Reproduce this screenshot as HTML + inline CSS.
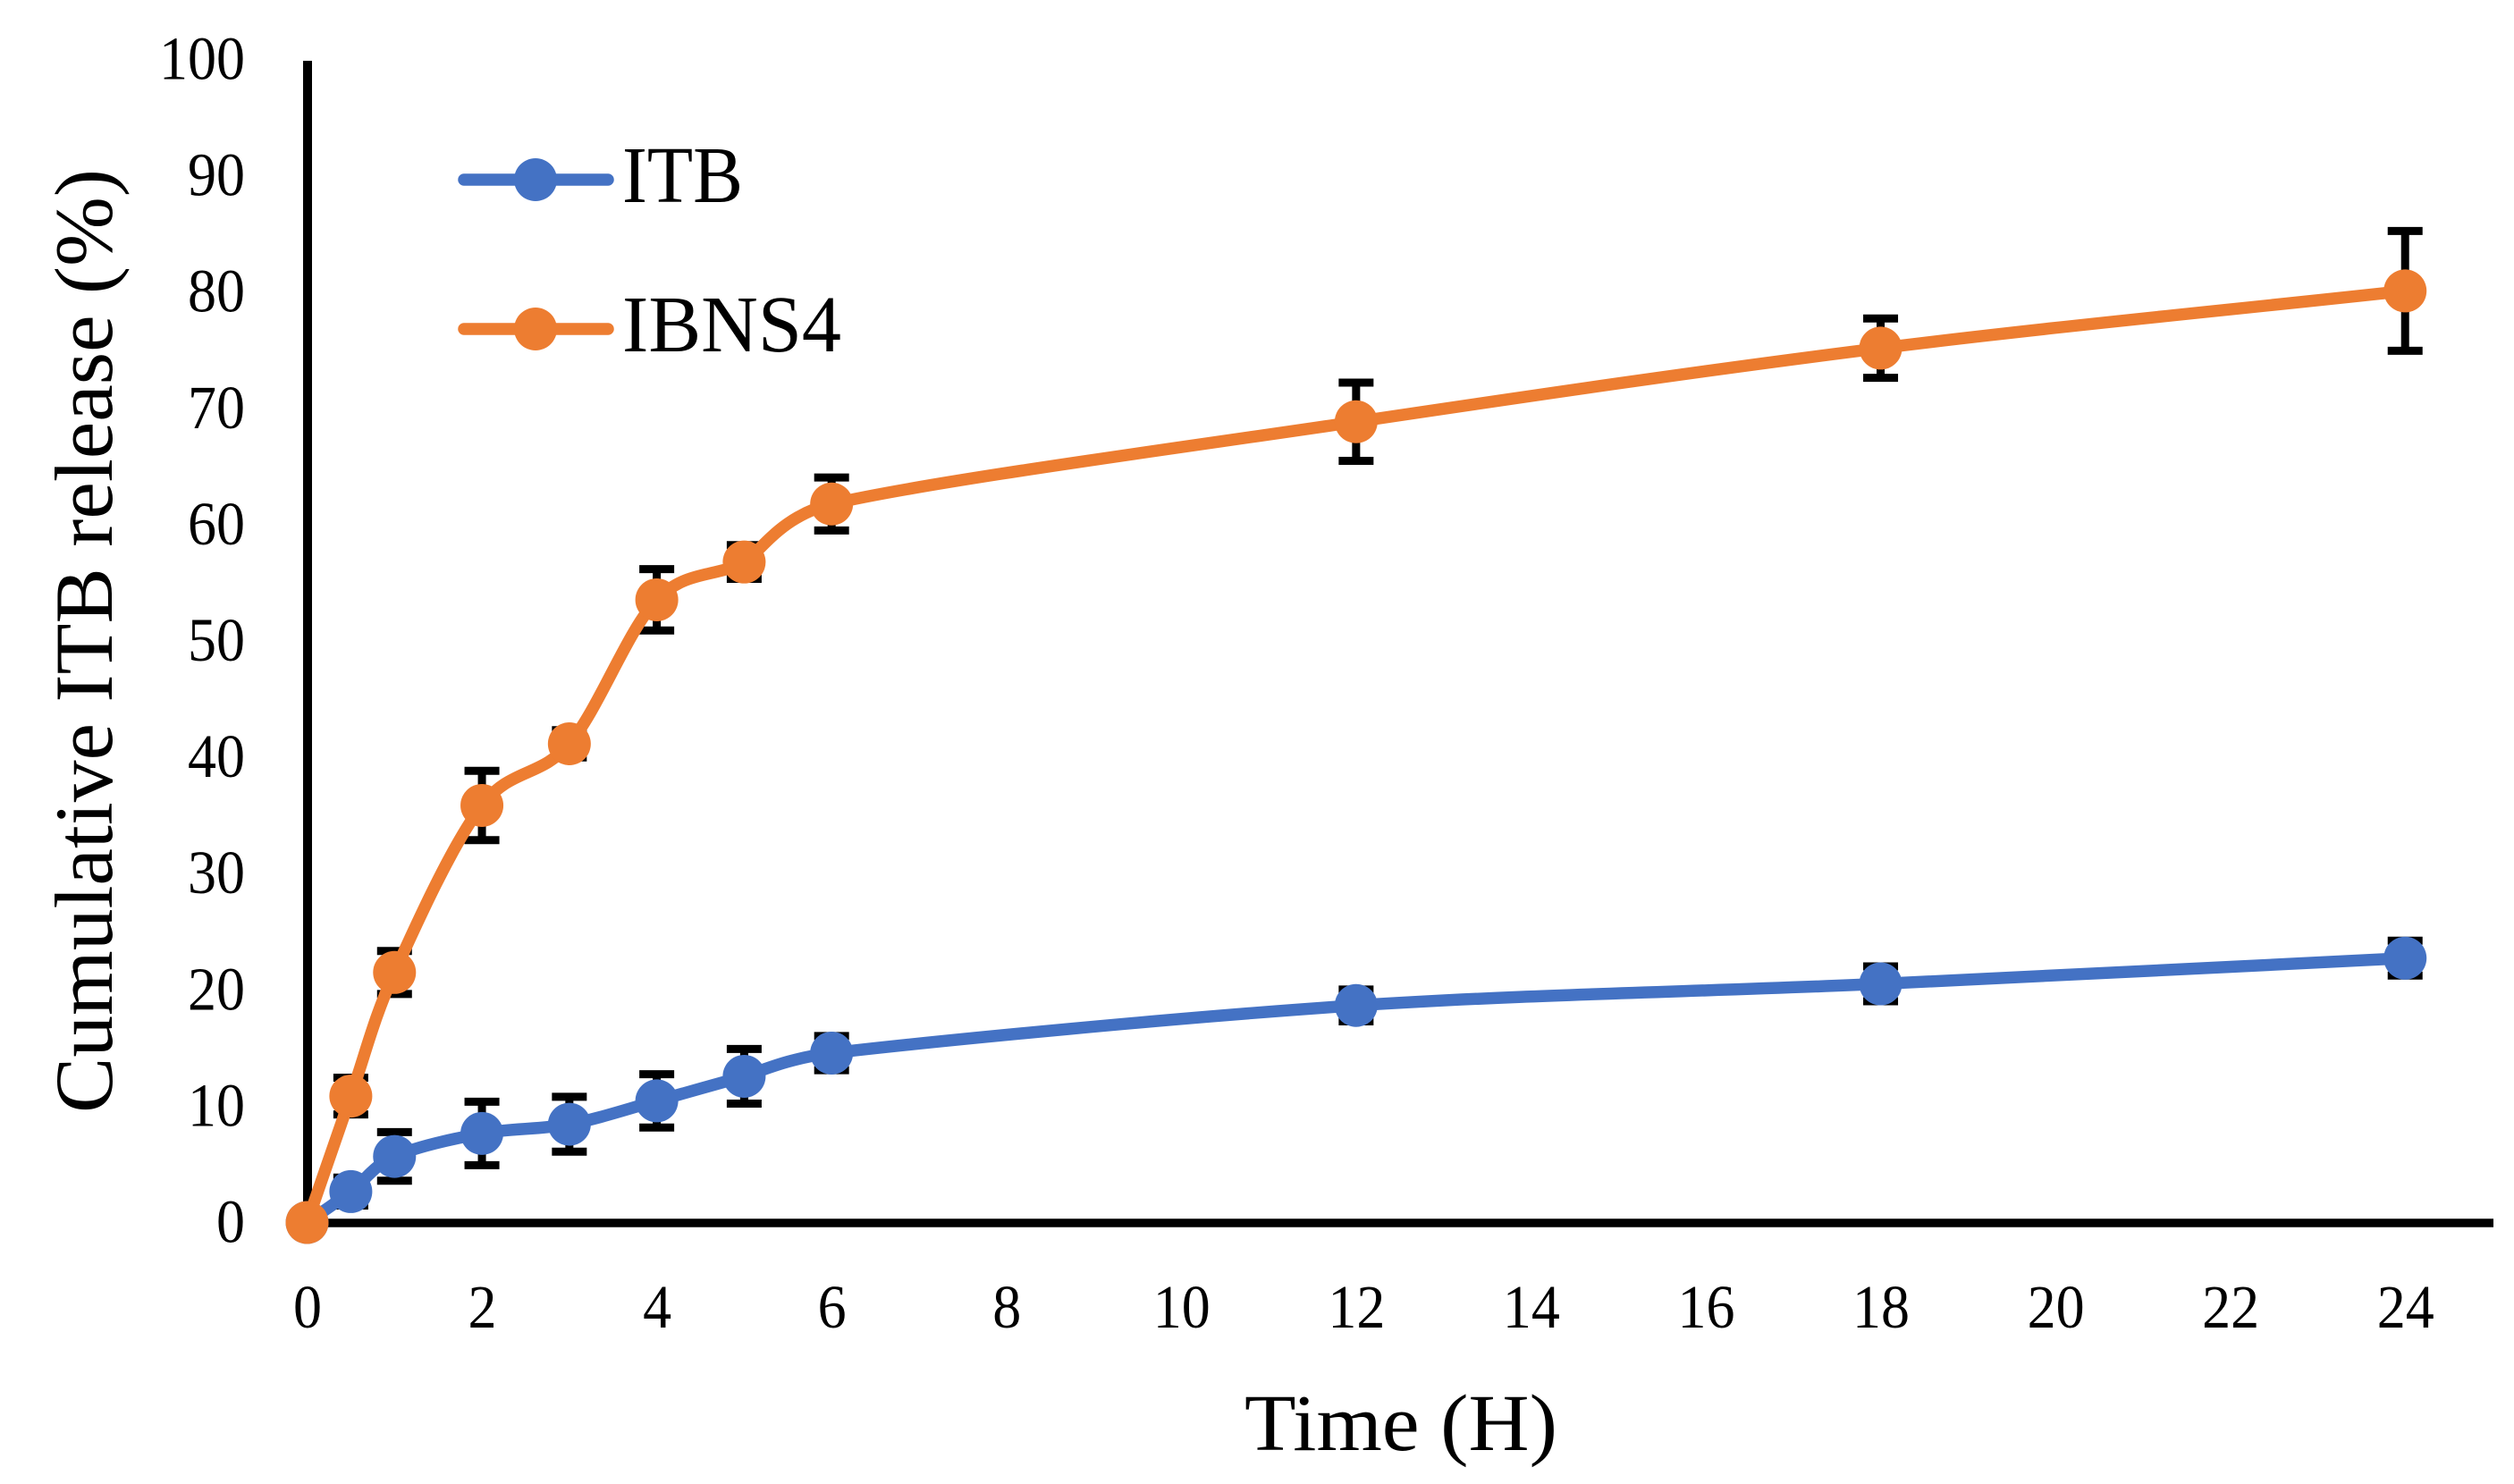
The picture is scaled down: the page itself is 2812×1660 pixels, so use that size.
<!DOCTYPE html>
<html lang="en">
<head>
<meta charset="utf-8">
<title>Cumulative ITB release over time</title>
<style>
html,body{margin:0;padding:0;background:#fff;}
svg{display:block;}
text{font-family:"Liberation Serif",serif;fill:#000;}
</style>
</head>
<body>
<svg id="chart" width="2812" height="1660" viewBox="0 0 2812 1660" xmlns="http://www.w3.org/2000/svg">
  <rect x="0" y="0" width="2812" height="1660" fill="#fff"/>
  <g id="x-ticks"></g>
  <g id="y-ticks"></g>
  <g id="axes"></g>
  <g id="errors"></g>
  <g id="series"></g>
  <text transform="translate(125,1245) rotate(-90)" font-size="92" textLength="1056" lengthAdjust="spacingAndGlyphs">Cumulative ITB release (%)</text>
  <text x="1392" y="1622" font-size="90" textLength="350" lengthAdjust="spacingAndGlyphs">Time (H)</text>
  <g>
    <g>
      <line x1="519" y1="201" x2="680" y2="201" stroke="#4472C4" stroke-width="13.5" stroke-linecap="round"/>
      <circle cx="599" cy="201" r="24" fill="#4472C4"/>
      <text x="696" y="226" font-size="90" textLength="135" lengthAdjust="spacingAndGlyphs">ITB</text>
    </g>
    <g>
      <line x1="519" y1="368" x2="680" y2="368" stroke="#ED7D31" stroke-width="13.5" stroke-linecap="round"/>
      <circle cx="599" cy="368" r="24" fill="#ED7D31"/>
      <text x="696" y="393" font-size="90" textLength="245" lengthAdjust="spacingAndGlyphs">IBNS4</text>
    </g>
  </g>
</svg>
<script>
const timePoints = [0, 0.5, 1, 2, 3, 4, 5, 6, 12, 18, 24];
const itbValues = [0, 2.66, 5.68, 7.66, 8.45, 10.46, 12.57, 14.57, 18.66, 20.52, 22.73];
const itbErrors = [0, 1.2, 2.09, 2.73, 2.36, 2.29, 2.35, 1.47, 1.37, 1.5, 1.5];
const ibns4Values = [0, 10.87, 21.5, 35.86, 41.16, 53.54, 56.79, 61.78, 68.85, 75.18, 80.1];
const ibns4Errors = [0, 1.58, 1.85, 2.98, 1.17, 2.64, 1.45, 2.28, 3.36, 2.55, 5.15];
const xTickLabels = [0, 2, 4, 6, 8, 10, 12, 14, 16, 18, 20, 22, 24];
const yTickLabels = [0, 10, 20, 30, 40, 50, 60, 70, 80, 90, 100];

const NS = 'http://www.w3.org/2000/svg';
const xAxis = function (v) { return 343.5 + v * 97.78; };
const yAxis = function (v) { return 1367.5 - v * 13.01; };

function make(tag, attrs, parent) {
  const el = document.createElementNS(NS, tag);
  Object.keys(attrs).forEach(function (k) { el.setAttribute(k, attrs[k]); });
  parent.appendChild(el);
  return el;
}

function dist(a, b) { return Math.hypot(b[0] - a[0], b[1] - a[1]); }

function smoothPath(xs, ys) {
  const pts = xs.map(function (x, i) { return [xAxis(x), yAxis(ys[i])]; });
  let d = 'M' + pts[0][0] + ' ' + pts[0][1];
  for (let i = 0; i < pts.length - 1; i++) {
    const p0 = pts[Math.max(0, i - 1)];
    const p1 = pts[i];
    const p2 = pts[i + 1];
    const p3 = pts[Math.min(pts.length - 1, i + 2)];
    const d02 = dist(p0, p2);
    const d12 = dist(p1, p2);
    const d13 = dist(p1, p3);
    let f1;
    let f2;
    if (d02 / 6 < d12 / 2 && d13 / 6 < d12 / 2) {
      f1 = i === 0 ? 1 / 3 : 1 / 6;
      f2 = i === pts.length - 2 ? 1 / 3 : 1 / 6;
    } else if (d02 / 6 >= d12 / 2 && d13 / 6 >= d12 / 2) {
      f1 = 0.5 * d12 / d02;
      f2 = 0.5 * d12 / d13;
    } else if (d02 / 6 >= d12 / 2) {
      f1 = 0.5 * d12 / d02;
      f2 = f1;
    } else {
      f1 = 0.5 * d12 / d13;
      f2 = f1;
    }
    d += ' C' + (p1[0] + f1 * (p2[0] - p0[0])) + ' ' + (p1[1] + f1 * (p2[1] - p0[1])) + ' ' +
         (p2[0] - f2 * (p3[0] - p1[0])) + ' ' + (p2[1] - f2 * (p3[1] - p1[1])) + ' ' + p2[0] + ' ' + p2[1];
  }
  return d;
}

const axesGroup = document.getElementById('axes');
const yAxisLine = make('line', { x1: 344, y1: 68, x2: 344, y2: 1372.5, stroke: '#000', 'stroke-width': 10 }, axesGroup);


const xAxisLine = make('line', { x1: 339, y1: 1368, x2: 2789, y2: 1368, stroke: '#000', 'stroke-width': 9.6 }, axesGroup);



const xTickGroup = document.getElementById('x-ticks');
xTickLabels.forEach(function (v) {
  const s = String(v);
  const t = make('text', { x: xAxis(v) + 0.5, y: 1485, 'font-size': 69, 'text-anchor': 'middle', textLength: s.length * 32, lengthAdjust: 'spacingAndGlyphs' }, xTickGroup);
  t.textContent = s;
  
  
});

const yTickGroup = document.getElementById('y-ticks');
yTickLabels.forEach(function (v) {
  const s = String(v);
  const t = make('text', { x: 274, y: yAxis(v) + 22, 'font-size': 69, 'text-anchor': 'end', textLength: s.length * 32, lengthAdjust: 'spacingAndGlyphs' }, yTickGroup);
  t.textContent = s;
  
  
});

const errorGroup = document.getElementById('errors');
function drawErrors(values, errors, seriesName) {
  timePoints.forEach(function (x, i) {
    if (!errors[i]) return;
    const g = make('g', { stroke: '#000' }, errorGroup);
    
    
    const cx = xAxis(x);
    const top = yAxis(values[i] + errors[i]);
    const bottom = yAxis(values[i] - errors[i]);
    make('line', { x1: cx, y1: top, x2: cx, y2: bottom, 'stroke-width': 9 }, g);
    make('line', { x1: cx - 19.5, y1: top, x2: cx + 19.5, y2: top, 'stroke-width': 9 }, g);
    make('line', { x1: cx - 19.5, y1: bottom, x2: cx + 19.5, y2: bottom, 'stroke-width': 9 }, g);
  });
}
drawErrors(itbValues, itbErrors, 'itb');
drawErrors(ibns4Values, ibns4Errors, 'ibns4');

const seriesGroup = document.getElementById('series');
function drawSeries(values, color, seriesName) {
  const path = make('path', { d: smoothPath(timePoints, values), fill: 'none', stroke: color, 'stroke-width': 13.5, 'stroke-linejoin': 'round' }, seriesGroup);
  
  
  timePoints.forEach(function (x, i) {
    const c = make('circle', { cx: xAxis(x), cy: yAxis(values[i]), r: 24, fill: color }, seriesGroup);
    
    
  });
}
drawSeries(itbValues, '#4472C4', 'itb');
drawSeries(ibns4Values, '#ED7D31', 'ibns4');
</script>
</body>
</html>
